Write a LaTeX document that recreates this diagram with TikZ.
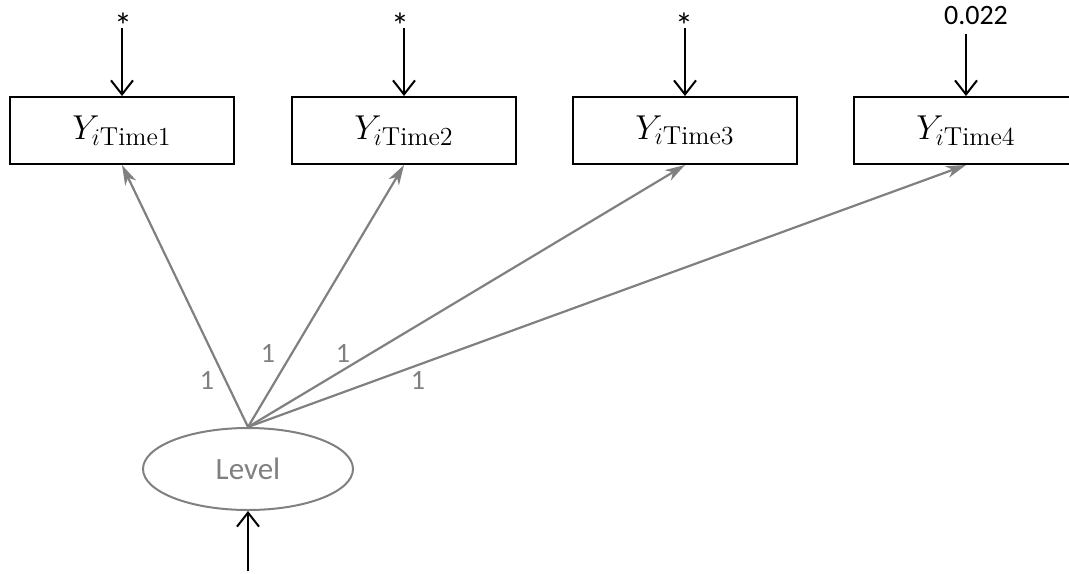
\documentclass[tikz,border=0pt]{standalone}
\usepackage{fontspec}
\setmainfont{Carlito}
\setmathrm{Latin Modern Roman}
\DeclareMathSizes{17.28}{17.28}{13}{10}
\usetikzlibrary{arrows.meta, positioning, shapes.geometric}
\definecolor{pathgray}{RGB}{128,128,128}
\tikzset{
  obs/.style={draw=black, rectangle, line width=1pt, minimum width=112pt, minimum height=33.5pt, inner sep=0pt, font=\fontsize{17.28}{20}\selectfont},
  latent/.style={draw=pathgray, ellipse, line width=1pt, minimum width=105pt, minimum height=41pt, inner sep=0pt, text=pathgray, font=\fontsize{15.5}{18}\selectfont},
  resid/.style={-{Straight Barb[length=7pt, width=11pt]}, line width=1pt, draw=black},
  load/.style={-{Stealth[length=10pt, width=6pt, inset=3pt]}, line width=1.1pt, draw=pathgray},
  errlab/.style={font=\fontsize{14}{16}\selectfont, inner sep=0pt, anchor=base},
  star/.style={errlab, font=\fontsize{18}{20}\selectfont},
  wt/.style={text=pathgray, font=\fontsize{14}{16}\selectfont, inner sep=0pt}
}

\begin{document}
\begin{tikzpicture}[x=0.5pt, y=-0.5pt]

\path[use as bounding box, clip] (0,0) rectangle (1069,573);

% observed measures
\node[obs] (y1) at (122,130.5) {$Y_{i\mathrm{Time1}}$};
\node[obs] (y2) at (404,130.5) {$Y_{i\mathrm{Time2}}$};
\node[obs] (y3) at (685,130.5) {$Y_{i\mathrm{Time3}}$};
\node[obs] (y4) at (966,130.5) {$Y_{i\mathrm{Time4}}$};

% latent factor
\node[latent] (level) at (248,469) {Level};

% residual variances
\node[star] (e1) at (123,39) {*};
\node[star] (e2) at (400,39) {*};
\node[star] (e3) at (684,39) {*};
\node[errlab] (e4) at (976,25) {0.022};

\coordinate[above=34pt of y1.north] (s1);
\coordinate[above=34pt of y2.north] (s2);
\coordinate[above=34pt of y3.north] (s3);
\coordinate[above=31pt of y4.north] (s4);
\coordinate[below=30pt of level.south] (s0);

\draw[resid] (s1) -- (y1);
\draw[resid] (s2) -- (y2);
\draw[resid] (s3) -- (y3);
\draw[resid] (s4) -- (y4);
\draw[resid] (s0) -- (level);

% loadings
\draw[load] (level.north) -- (y1.south);
\draw[load] (level.north) -- (y2.south);
\draw[load] (level.north) -- (y3.south);
\draw[load] (level.north) -- (y4.south);

\node[wt] (w1) at (207,380) {1};
\node[wt] (w2) at (268,353) {1};
\node[wt] (w3) at (343,353) {1};
\node[wt] (w4) at (418,380) {1};

\end{tikzpicture}
\end{document}
